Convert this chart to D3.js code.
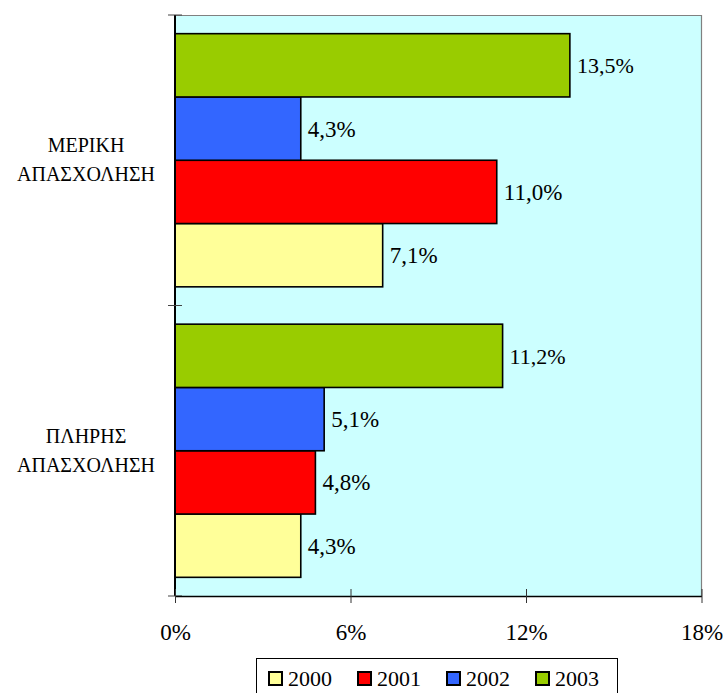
<!DOCTYPE html>
<html>
<head>
<meta charset="utf-8">
<script src="https://cdn.jsdelivr.net/npm/d3@7"></script>
<style>
  html, body { margin: 0; padding: 0; background: #ffffff; }
  svg { display: block; }
  .serif { font-family: "Liberation Serif", "DejaVu Serif", serif; fill: #000; }
</style>
</head>
<body>
<svg id="chart" width="725" height="693"></svg>
<script>
// ---- data ----
const categories = ["ΜΕΡΙΚΗ\nΑΠΑΣΧΟΛΗΣΗ", "ΠΛΗΡΗΣ\nΑΠΑΣΧΟΛΗΣΗ"];
const years = ["2000", "2001", "2002", "2003"];
const values2000 = [7.1, 4.3];
const values2001 = [11.0, 4.8];
const values2002 = [4.3, 5.1];
const values2003 = [13.5, 11.2];
const xTicks = [0, 6, 12, 18];
const colors = ["#FFFF99", "#FF0000", "#3366FF", "#99CC00"];

const seriesValues = [values2000, values2001, values2002, values2003];

// ---- layout ----
const svg = d3.select("#chart");
const plot = { left: 175, right: 701.5, top: 15, bottom: 596 };

const x = d3.scaleLinear().domain([0, 18]).range([plot.left, plot.right]);
const y0 = d3.scaleBand().domain(categories).range([plot.top, plot.bottom]).padding(0);
// within a category: 2003 at top, 2000 at bottom
const y1 = d3.scaleBand().domain(years.slice().reverse()).range([0, y0.bandwidth()])
  .paddingInner(0).paddingOuter(0.295);

// background
svg.append("rect")
  .attr("x", plot.left).attr("y", plot.top)
  .attr("width", plot.right - plot.left).attr("height", plot.bottom - plot.top)
  .attr("fill", "#CCFFFF");
// top & right border (gray)
svg.append("path")
  .attr("d", `M${plot.left},${plot.top + 0.5}H${plot.right}V${plot.bottom}`)
  .attr("fill", "none").attr("stroke", "#808080").attr("stroke-width", 1.2);

// bars
const data = [];
categories.forEach((c, ci) => {
  years.forEach((yr, si) => {
    data.push({ cat: c, year: yr, value: seriesValues[si][ci], color: colors[si] });
  });
});

const g = svg.append("g");
g.selectAll("rect.bar").data(data).enter().append("rect")
  .attr("class", "bar")
  .attr("x", x(0))
  .attr("y", d => y0(d.cat) + y1(d.year))
  .attr("width", d => x(d.value) - x(0))
  .attr("height", y1.bandwidth())
  .attr("fill", d => d.color)
  .attr("stroke", "#000").attr("stroke-width", 1.6);

// value labels
g.selectAll("text.lbl").data(data).enter().append("text")
  .attr("class", "lbl serif")
  .attr("x", d => x(d.value) + 7)
  .attr("y", d => y0(d.cat) + y1(d.year) + y1.bandwidth() / 2)
  .attr("dy", "0.35em")
  .attr("font-size", d => d.year === "2003" ? 22 : 23)
  .text(d => d.value.toFixed(1).replace(".", ",") + "%");

// left axis line
svg.append("line")
  .attr("x1", plot.left).attr("x2", plot.left)
  .attr("y1", plot.top).attr("y2", plot.bottom)
  .attr("stroke", "#000").attr("stroke-width", 2);
// left axis ticks at category boundaries
const bounds = categories.map(c => y0(c)).concat([plot.bottom]);
svg.selectAll("line.ytick").data(bounds).enter().append("line")
  .attr("class", "ytick")
  .attr("x1", plot.left - 7).attr("x2", plot.left + 7)
  .attr("y1", d => d).attr("y2", d => d)
  .attr("stroke", "#444").attr("stroke-width", 1);

// category labels
categories.forEach(c => {
  const cy = y0(c) + y0.bandwidth() / 2;
  const lines = c.split("\n");
  const t = svg.append("text")
    .attr("class", "serif")
    .attr("text-anchor", "middle")
    .attr("font-size", 20);
  t.append("tspan").attr("x", 86).attr("y", cy - 8).text(lines[0]);
  t.append("tspan").attr("x", 86).attr("y", cy + 21).text(lines[1]);
});

// bottom axis
const xAxis = d3.axisBottom(x).tickValues(xTicks).tickFormat(d => d + "%").tickSize(7).tickSizeOuter(0);
const ax = svg.append("g").attr("transform", `translate(0,${plot.bottom})`).call(xAxis);
ax.attr("font-family", null).attr("font-size", null);
ax.select(".domain").attr("stroke", "#000").attr("stroke-width", 1.6);
ax.selectAll(".tick line").attr("y1", -7).attr("y2", 7).attr("stroke", "#333");
ax.selectAll(".tick text")
  .attr("class", "serif")
  .attr("y", 44).attr("dy", 0)
  .attr("font-size", 23);

// legend
const legend = svg.append("g");
legend.append("rect")
  .attr("x", 256.5).attr("y", 658.5).attr("width", 361).attr("height", 60)
  .attr("fill", "#fff").attr("stroke", "#000").attr("stroke-width", 1);
const items = legend.selectAll("g.item").data(years).enter().append("g")
  .attr("class", "item")
  .attr("transform", (d, i) => `translate(${269 + i * 89},0)`);
items.append("rect")
  .attr("x", 0).attr("y", 672).attr("width", 13).attr("height", 13)
  .attr("fill", (d, i) => colors[i]).attr("stroke", "#000").attr("stroke-width", 2);
items.append("text")
  .attr("class", "serif")
  .attr("x", 19).attr("y", 686)
  .attr("font-size", 22)
  .text(d => d);

// make sure the serif face is loaded, then refresh the text styling
if (document.fonts && document.fonts.load) {
  Promise.all([20, 22, 23].map(s =>
    document.fonts.load(`${s}px "Liberation Serif"`, "ΑΠΑΣΧΟΛΗΣΗ0123456789,%")))
    .then(() => { svg.selectAll("text.serif").classed("serif", true); })
    .catch(() => {});
}
</script>
</body>
</html>
